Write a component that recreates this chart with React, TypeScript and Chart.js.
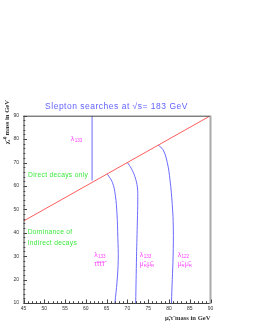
import React, { useEffect, useRef } from "react";
import { Chart, registerables } from "chart.js";

Chart.register(...registerables);

const xTicks = [45, 50, 55, 60, 65, 70, 75, 80, 85, 90];
const yTicks = [10, 20, 30, 40, 50, 60, 70, 80, 90];

const boundaryLine = [
  { x: 45, y: 45 },
  { x: 90, y: 90 },
];
const directLimit = [
  { x: 61.5, y: 62.3 },
  { x: 61.5, y: 90 },
];
const tauCurve = [
  { x: 65.2, y: 65 },
  { x: 66.4, y: 61.5 },
  { x: 67.1, y: 56 },
  { x: 67.5, y: 48 },
  { x: 67.7, y: 38 },
  { x: 67.8, y: 28.5 },
  { x: 67.5, y: 19 },
  { x: 67.0, y: 10 },
];
const muCurve133 = [
  { x: 70.0, y: 70 },
  { x: 70.9, y: 67.6 },
  { x: 71.8, y: 64 },
  { x: 72.4, y: 59.5 },
  { x: 72.5, y: 54 },
  { x: 72.4, y: 45 },
  { x: 72.2, y: 30 },
  { x: 72.0, y: 10 },
];
const muCurve122 = [
  { x: 77.4, y: 77.5 },
  { x: 78.6, y: 75.4 },
  { x: 79.6, y: 70 },
  { x: 80.25, y: 62.6 },
  { x: 80.8, y: 52 },
  { x: 81.05, y: 42 },
  { x: 81.0, y: 30 },
  { x: 80.8, y: 20 },
  { x: 80.6, y: 10 },
];

const titleText = "Slepton searches at \u221As= 183 GeV";
const xTitle = "\u03BC\u0303,\u03C4\u0303 mass in GeV";
const yTitle = "\u03C7\u0303\u2081\u2070 mass in GeV";

// region notes: [text, x, y]
const regionNotes: [string, number, number][] = [
  ["Direct decays only", 46.1, 63.8],
  ["Dominance of", 46.0, 39.5],
  ["Indirect decays", 46.0, 34.8],
];
// coupling labels: [coupling index, second line, second-line subscript, x, y]
const couplingLabels: [string, string, string, number, number][] = [
  ["133", "", "", 56.4, 79.2],
  ["133", "\u03C4\u0303\u03C4\u0303", "", 62.0, 29.8],
  ["133", "\u03BC\u0303", "R", 73.0, 29.8],
  ["122", "\u03BC\u0303", "R", 82.1, 29.8],
];

const BLUE = "#6b6bff";
const RED = "#ff5c5c";
const MAGENTA = "#ff40ff";
const GREEN = "#3ee83e";

const decorPlugin = {
  id: "decor",
  afterDraw(chart: any) {
    const ctx = chart.ctx as any;
    const xs = chart.scales.x;
    const ys = chart.scales.y;
    const { left, right, top, bottom } = chart.chartArea;
    ctx.save();
    // frame
    ctx.strokeStyle = "#444";
    ctx.lineWidth = 1;
    ctx.beginPath();
    ctx.moveTo(left, top + 0.5);
    ctx.lineTo(right, top + 0.5);
    ctx.moveTo(left + 0.5, top);
    ctx.lineTo(left + 0.5, bottom);
    ctx.moveTo(left, bottom + 0.5);
    ctx.lineTo(right, bottom + 0.5);
    ctx.stroke();
    ctx.strokeStyle = "#aaaaaa";
    ctx.lineWidth = 2;
    ctx.beginPath();
    ctx.moveTo(right, top);
    ctx.lineTo(right, bottom + 1);
    ctx.stroke();
    // inside ticks
    ctx.strokeStyle = "#444";
    ctx.lineWidth = 1;
    ctx.beginPath();
    for (let v = xs.min; v <= xs.max; v += 1) {
      const px = Math.round(xs.getPixelForValue(v)) + 0.5;
      const len = v % 5 === 0 ? 3.5 : 1.8;
      ctx.moveTo(px, bottom);
      ctx.lineTo(px, bottom - len);
    }
    for (let v = ys.min; v <= ys.max; v += 2) {
      const py = Math.round(ys.getPixelForValue(v)) + 0.5;
      const len = v % 10 === 0 ? 3.5 : 1.8;
      ctx.moveTo(left, py);
      ctx.lineTo(left + len, py);
    }
    ctx.stroke();

    // title
    ctx.fillStyle = "#6262ff";
    ctx.font = "8.5px 'Liberation Sans', Arial, sans-serif";
    ctx.letterSpacing = "0.5px";
    ctx.textAlign = "center";
    ctx.textBaseline = "alphabetic";
    ctx.fillText(titleText, (left + right) / 2 - 0.5, 109);
    ctx.letterSpacing = "0px";

    // axis titles
    ctx.fillStyle = "#333";
    ctx.font = "bold 6.6px 'Liberation Serif', 'Times New Roman', serif";
    ctx.textAlign = "right";
    ctx.fillText(xTitle, right, 320);
    ctx.save();
    ctx.translate(8.5, 100);
    ctx.rotate(-Math.PI / 2);
    ctx.textAlign = "right";
    ctx.fillText(yTitle, 0, 0);
    ctx.restore();

    // region notes
    ctx.fillStyle = GREEN;
    ctx.font = "6.7px 'Liberation Sans', Arial, sans-serif";
    ctx.letterSpacing = "0.3px";
    ctx.textAlign = "left";
    for (const [t, x, y] of regionNotes) {
      ctx.fillText(t, xs.getPixelForValue(x), ys.getPixelForValue(y));
    }
    ctx.letterSpacing = "0px";

    // coupling labels
    ctx.fillStyle = MAGENTA;
    for (const [idx, line2, sub, x, y] of couplingLabels) {
      const px = xs.getPixelForValue(x);
      const py = ys.getPixelForValue(y);
      ctx.font = "7px 'Liberation Sans', Arial, sans-serif";
      ctx.fillText("\u03BB", px, py);
      const lw = ctx.measureText("\u03BB").width;
      ctx.font = "4.6px 'Liberation Sans', Arial, sans-serif";
      ctx.fillText(idx, px + lw + 0.3, py + 1.3);
      if (line2) {
        const py2 = py + 9;
        let cx = px;
        for (let k = 0; k < 2; k++) {
          ctx.font = "6.6px 'Liberation Sans', Arial, sans-serif";
          ctx.fillText(line2, cx, py2);
          cx += ctx.measureText(line2).width;
          if (sub) {
            ctx.font = "4.4px 'Liberation Sans', Arial, sans-serif";
            ctx.fillText(sub, cx, py2 + 1.2);
            cx += ctx.measureText(sub).width + 0.3;
          }
        }
      }
    }
    ctx.restore();
  },
};

function lineSet(data: { x: number; y: number }[], color: string, tension = 0.4) {
  return {
    data,
    showLine: true,
    borderColor: color,
    backgroundColor: color,
    borderWidth: 1,
    pointRadius: 0,
    tension,
    fill: false,
  };
}

export default function App() {
  const ref = useRef<HTMLCanvasElement | null>(null);
  useEffect(() => {
    if (!ref.current) return;
    const chart = new Chart(ref.current, {
      type: "scatter",
      data: {
        datasets: [
          lineSet(boundaryLine, RED, 0),
          lineSet(directLimit, BLUE, 0),
          lineSet(tauCurve, BLUE),
          lineSet(muCurve133, BLUE),
          lineSet(muCurve122, BLUE),
        ],
      },
      options: {
        animation: false,
        responsive: false,
        maintainAspectRatio: false,
        layout: { padding: { left: 0, right: 42.5, top: 115.7, bottom: 0 } },
        plugins: { legend: { display: false }, tooltip: { enabled: false }, title: { display: false } },
        scales: {
          x: {
            type: "linear",
            min: 45,
            max: 90,
            grid: { display: false, drawTicks: false },
            border: { display: false },
            afterFit: (s: any) => {
              s.height = 24;
            },
            afterBuildTicks: (s: any) => {
              s.ticks = xTicks.map((v) => ({ value: v }));
            },
            ticks: {
              padding: 2.5,
              color: "#333",
              font: { size: 5, family: "'Liberation Sans', Arial, sans-serif" },
              maxRotation: 0,
              autoSkip: false,
            },
          },
          y: {
            type: "linear",
            min: 10,
            max: 90,
            grid: { display: false, drawTicks: false },
            border: { display: false },
            afterFit: (s: any) => {
              s.width = 23.5;
            },
            afterBuildTicks: (s: any) => {
              s.ticks = yTicks.map((v) => ({ value: v }));
            },
            ticks: {
              padding: 4.5,
              color: "#333",
              font: { size: 5, family: "'Liberation Sans', Arial, sans-serif" },
              autoSkip: false,
            },
          },
        },
      },
      plugins: [decorPlugin],
    } as any);
    return () => chart.destroy();
  }, []);
  return (
    <div style={{ position: "absolute", left: 0, top: 0, width: 253, height: 327 }}>
      <canvas ref={ref} width={253} height={327} style={{ display: "block" }} />
    </div>
  );
}
